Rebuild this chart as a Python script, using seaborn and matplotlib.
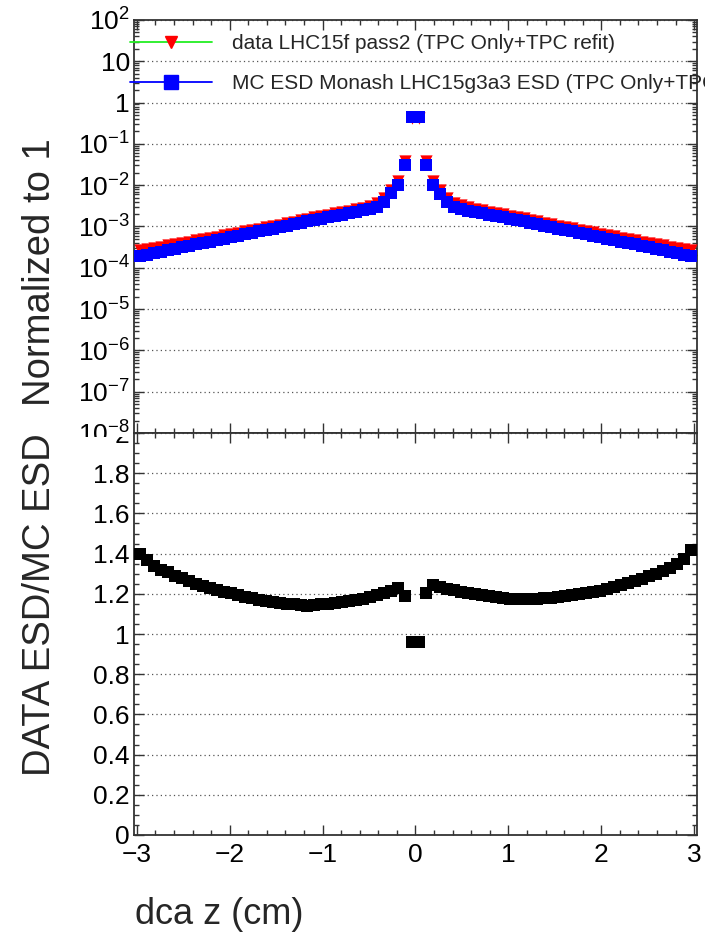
import numpy as np
import pandas as pd
import matplotlib
matplotlib.use("Agg")
import matplotlib.pyplot as plt
import seaborn as sns
from matplotlib.lines import Line2D
from matplotlib.ticker import FixedLocator, LogLocator, MultipleLocator, NullFormatter, FuncFormatter
from matplotlib.transforms import Bbox, TransformedBbox

# ---------------- data ----------------
x_min, x_max, n_bins = -3.0, 3.0, 80

mc_esd = [1.91e-4, 2.07e-4, 2.24e-4, 2.45e-4, 2.66e-4, 2.88e-4, 3.13e-4, 3.39e-4, 3.67e-4, 3.98e-4,
          4.32e-4, 4.68e-4, 5.07e-4, 5.50e-4, 5.96e-4, 6.46e-4, 7.00e-4, 7.59e-4, 8.22e-4, 8.91e-4,
          9.66e-4, 1.05e-3, 1.14e-3, 1.23e-3, 1.33e-3, 1.45e-3, 1.55e-3, 1.66e-3, 1.80e-3, 1.93e-3,
          2.09e-3, 2.26e-3, 2.45e-3, 2.69e-3, 3.02e-3, 3.98e-3, 6.31e-3, 1.02e-2, 3.16e-2, 0.437,
          0.441, 3.14e-2, 1.00e-2, 6.20e-3, 3.95e-3, 3.00e-3, 2.67e-3, 2.44e-3, 2.25e-3, 2.08e-3,
          1.92e-3, 1.79e-3, 1.66e-3, 1.55e-3, 1.44e-3, 1.33e-3, 1.23e-3, 1.14e-3, 1.05e-3, 9.70e-4,
          8.90e-4, 8.20e-4, 7.60e-4, 7.00e-4, 6.45e-4, 5.95e-4, 5.50e-4, 5.07e-4, 4.68e-4, 4.32e-4,
          3.98e-4, 3.67e-4, 3.39e-4, 3.12e-4, 2.88e-4, 2.65e-4, 2.44e-4, 2.24e-4, 2.06e-4, 1.89e-4]

data_lhc15f = [2.67e-4, 2.84e-4, 3.00e-4, 3.23e-4, 3.48e-4, 3.72e-4, 4.01e-4, 4.29e-4, 4.59e-4, 4.94e-4,
               5.31e-4, 5.71e-4, 6.13e-4, 6.63e-4, 7.12e-4, 7.66e-4, 8.26e-4, 8.88e-4, 9.58e-4, 1.034e-3,
               1.116e-3, 1.208e-3, 1.311e-3, 1.408e-3, 1.516e-3, 1.660e-3, 1.783e-3, 1.909e-3, 2.079e-3, 2.239e-3,
               2.435e-3, 2.644e-3, 2.879e-3, 3.188e-3, 3.609e-3, 4.796e-3, 7.667e-3, 1.255e-2, 3.760e-2, 0.4195,
               0.4234, 3.784e-2, 1.245e-2, 7.657e-3, 4.839e-3, 3.660e-3, 3.231e-3, 2.940e-3, 2.700e-3, 2.486e-3,
               2.285e-3, 2.121e-3, 1.959e-3, 1.821e-3, 1.692e-3, 1.563e-3, 1.445e-3, 1.340e-3, 1.239e-3, 1.145e-3,
               1.055e-3, 9.76e-4, 9.08e-4, 8.40e-4, 7.77e-4, 7.20e-4, 6.68e-4, 6.21e-4, 5.78e-4, 5.38e-4,
               4.99e-4, 4.64e-4, 4.32e-4, 4.02e-4, 3.74e-4, 3.48e-4, 3.25e-4, 3.02e-4, 2.83e-4, 2.68e-4]

ratio = [1.40, 1.37, 1.34, 1.32, 1.31, 1.29, 1.28, 1.265, 1.25, 1.24,
         1.23, 1.22, 1.21, 1.205, 1.195, 1.185, 1.18, 1.17, 1.165, 1.16,
         1.155, 1.15, 1.15, 1.145, 1.14, 1.145, 1.15, 1.15, 1.155, 1.16,
         1.165, 1.17, 1.175, 1.185, 1.195, 1.205, 1.215, 1.23, 1.19, 0.96,
         0.96, 1.205, 1.245, 1.235, 1.225, 1.22, 1.21, 1.205, 1.20, 1.195,
         1.19, 1.185, 1.18, 1.175, 1.175, 1.175, 1.175, 1.175, 1.18, 1.18,
         1.185, 1.19, 1.195, 1.20, 1.205, 1.21, 1.215, 1.225, 1.235, 1.245,
         1.255, 1.265, 1.275, 1.29, 1.30, 1.315, 1.33, 1.35, 1.375, 1.42]

legend_labels = ["data LHC15f pass2 (TPC Only+TPC refit)",
                 "MC ESD Monash LHC15g3a3 ESD (TPC Only+TPC refit)"]

top_ticks = [1e-8, 1e-7, 1e-6, 1e-5, 1e-4, 1e-3, 1e-2, 1e-1, 1, 10, 100]
top_tick_labels = [r"$10^{-8}$", r"$10^{-7}$", r"$10^{-6}$", r"$10^{-5}$", r"$10^{-4}$",
                   r"$10^{-3}$", r"$10^{-2}$", r"$10^{-1}$", "1", "10", r"$10^{2}$"]

edges = np.linspace(x_min, x_max, n_bins + 1)
dca = 0.5 * (edges[:-1] + edges[1:])
df = pd.DataFrame({"dca": dca, "data": data_lhc15f, "mc": mc_esd, "ratio": ratio})

# ---------------- style ----------------
sns.set_style("white")
plt.rcParams["font.family"] = ["Liberation Sans", "DejaVu Sans"]
plt.rcParams["mathtext.fontset"] = "custom"
plt.rcParams["mathtext.rm"] = "Liberation Sans"
plt.rcParams["mathtext.it"] = "Liberation Sans:italic"
plt.rcParams["mathtext.bf"] = "Liberation Sans:bold"
plt.rcParams["axes.unicode_minus"] = True

W, H = 705, 939
fig = plt.figure(figsize=(W / 100, H / 100), dpi=100)
L, R = 134, 697
T1, B1, B2 = 20, 433, 835
ax1 = fig.add_axes([L / W, 1 - B1 / H, (R - L) / W, (B1 - T1) / H])
ax2 = fig.add_axes([L / W, 1 - B2 / H, (R - L) / W, (B2 - B1) / H])

msize = 78
sns.scatterplot(data=df, x="dca", y="data", ax=ax1, marker="v", color="#ff0000",
                s=msize, linewidth=0, legend=False, zorder=3)
sns.scatterplot(data=df, x="dca", y="mc", ax=ax1, marker="s", color="#0000ff",
                s=msize, linewidth=0, legend=False, zorder=4)
sns.scatterplot(data=df, x="dca", y="ratio", ax=ax2, marker="s", color="black",
                s=msize, linewidth=0, legend=False, zorder=4)

frame_col = "#333333"
for ax in (ax1, ax2):
    ax.set_xlim(-3.03, 3.03)
    ax.set_xlabel("")
    ax.set_ylabel("")
    ax.xaxis.set_major_locator(MultipleLocator(1))
    ax.xaxis.set_minor_locator(MultipleLocator(0.2))
    ax.tick_params(which="both", direction="in", top=True, right=True,
                   bottom=True, left=True, color=frame_col, width=1.0, labelsize=19,
                   labelcolor="black")
    ax.tick_params(which="major", length=7)
    ax.tick_params(which="minor", length=3.5)
    for sp in ax.spines.values():
        sp.set_color(frame_col)
        sp.set_linewidth(1.3)
    ax.yaxis.grid(True, which="major", linestyle=(0, (1, 2.5)), color="#555555", linewidth=0.9)
    ax.xaxis.grid(False)
    ax.set_axisbelow(True)

ax1.set_yscale("log")
ax1.set_ylim(1e-8, 1e2)
ax1.yaxis.set_major_locator(FixedLocator(top_ticks))
ax1.set_yticklabels(top_tick_labels)
ax1.yaxis.set_minor_locator(LogLocator(base=10, subs=np.arange(2, 10), numticks=100))
ax1.yaxis.set_minor_formatter(NullFormatter())
ax1.tick_params(axis="x", labelbottom=False)
ax1.tick_params(axis="y", pad=3)

ax2.set_ylim(0, 2)
ax2.yaxis.set_major_locator(MultipleLocator(0.2))
ax2.yaxis.set_minor_locator(MultipleLocator(0.05))
ax2.yaxis.set_major_formatter(FuncFormatter(lambda v, p: f"{v:.1f}".rstrip("0").rstrip(".") if abs(v) > 1e-9 else "0"))
ax2.tick_params(axis="y", pad=3)
ax2.tick_params(axis="x", pad=6)

# legend
handles = [Line2D([], [], color="#22ee22", lw=1.3, marker="v", markersize=8.6,
                  markerfacecolor="#ff0000", markeredgecolor="#ff0000"),
           Line2D([], [], color="#0000ff", lw=1.3, marker="s", markersize=9.5,
                  markerfacecolor="#0000ff", markeredgecolor="#0000ff")]
leg = ax1.legend(handles, legend_labels, loc="upper left",
                 bbox_to_anchor=(130 / W, 1 - 34 / H), bbox_transform=fig.transFigure,
                 frameon=False, fontsize=15, handlelength=3.95, handletextpad=0.96,
                 labelspacing=1.03, borderpad=0, borderaxespad=0, numpoints=1)
leg.set_zorder(10)

# axis titles
fig.text(40 / W, 1 - 272 / H, "Normalized to 1", rotation=90, ha="center", va="center", fontsize=27.5)
fig.text(40 / W, 1 - 605 / H, "DATA ESD/MC ESD", rotation=90, ha="center", va="center", fontsize=27.5)
fig.text(135 / W, 1 - 915 / H, "dca z (cm)", ha="left", va="center", fontsize=26)

# clip tick labels at the pad boundary like the ROOT pads
fig.canvas.draw()
cut = 1 - 437 / H
top_box = TransformedBbox(Bbox([[0, cut], [1, 1]]), fig.transFigure)
bot_box = TransformedBbox(Bbox([[0, 0], [1, cut]]), fig.transFigure)
for lab in ax1.get_yticklabels():
    lab.set_clip_box(top_box)
    lab.set_clip_on(True)
for lab in ax2.get_yticklabels():
    lab.set_clip_box(bot_box)
    lab.set_clip_on(True)

fig.savefig("out.png", dpi=100, facecolor="white")
